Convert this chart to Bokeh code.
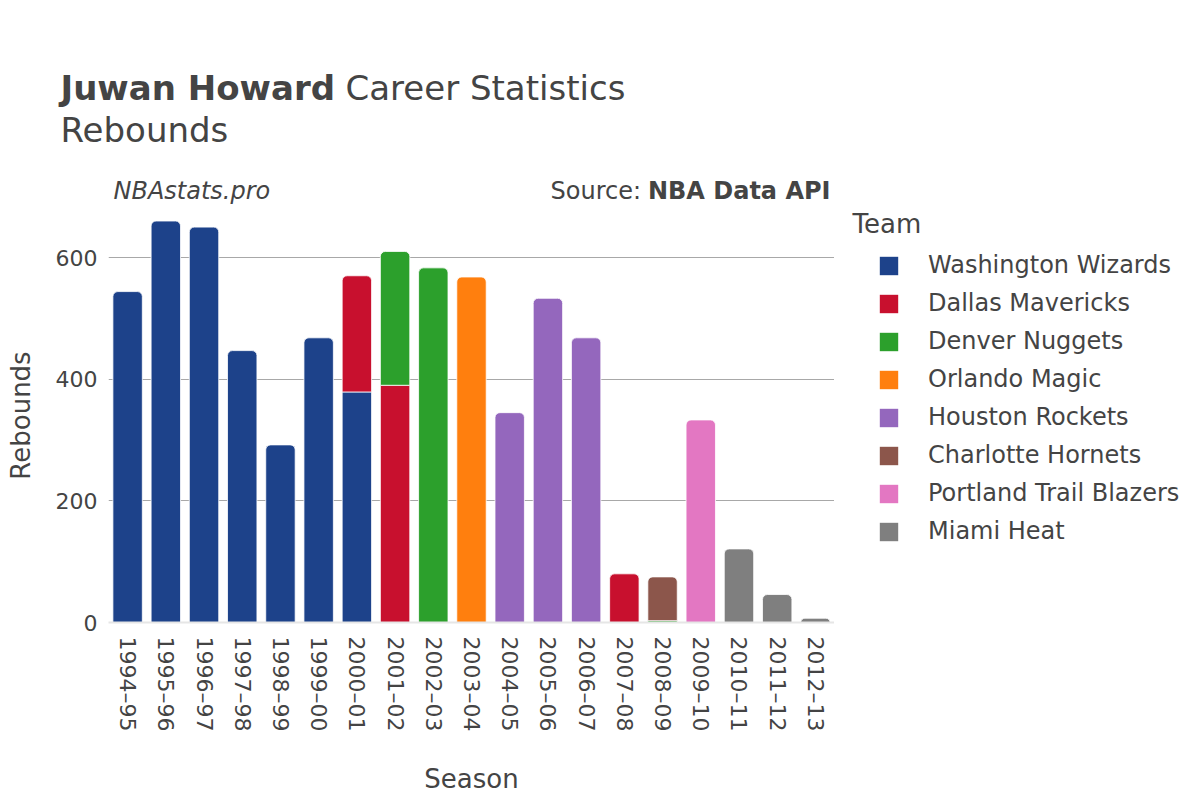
import math
from bokeh.plotting import figure
from bokeh.layouts import column, row
from bokeh.models import ColumnDataSource, Label, Legend, LegendItem, FactorRange, Range1d
from bokeh.embed import file_html
from bokeh.resources import INLINE

# ---------------- data ----------------
seasons = ["1994–95", "1995–96", "1996–97", "1997–98", "1998–99", "1999–00",
           "2000–01", "2001–02", "2002–03", "2003–04", "2004–05", "2005–06",
           "2006–07", "2007–08", "2008–09", "2009–10", "2010–11", "2011–12",
           "2012–13"]

teams = ["Washington Wizards", "Dallas Mavericks", "Denver Nuggets",
         "Orlando Magic", "Houston Rockets", "Charlotte Hornets",
         "Portland Trail Blazers", "Miami Heat"]

team_colors = ["#1D428A", "#C8102E", "#2CA02C", "#FF7F0E", "#9467BD",
               "#8C564B", "#E377C2", "#7F7F7F"]

washington = [544, 660, 650, 447, 292, 468, 379, 0, 0, 0, 0, 0, 0, 0, 0, 0, 0, 0, 0]
dallas     = [0, 0, 0, 0, 0, 0, 191, 390, 0, 0, 0, 0, 0, 80, 0, 0, 0, 0, 0]
denver     = [0, 0, 0, 0, 0, 0, 0, 220, 583, 0, 0, 0, 0, 0, 3, 0, 0, 0, 0]
orlando    = [0, 0, 0, 0, 0, 0, 0, 0, 0, 568, 0, 0, 0, 0, 0, 0, 0, 0, 0]
houston    = [0, 0, 0, 0, 0, 0, 0, 0, 0, 0, 345, 533, 468, 0, 0, 0, 0, 0, 0]
charlotte  = [0, 0, 0, 0, 0, 0, 0, 0, 0, 0, 0, 0, 0, 0, 72, 0, 0, 0, 0]
portland   = [0, 0, 0, 0, 0, 0, 0, 0, 0, 0, 0, 0, 0, 0, 0, 333, 0, 0, 0]
miami      = [0, 0, 0, 0, 0, 0, 0, 0, 0, 0, 0, 0, 0, 0, 0, 0, 121, 46, 7]

team_series = [washington, dallas, denver, orlando, houston, charlotte, portland, miami]
y_ticks = [0, 200, 400, 600]

TXT = "#444444"
FONT = "DejaVu Sans"
BASE_FIX = 0.37  # label baseline correction (fraction of font size)


def bare(fig):
    fig.axis.visible = False
    fig.xgrid.grid_line_color = None
    fig.ygrid.grid_line_color = None
    fig.outline_line_color = None
    return fig


def lab(fig, text, x, y, size_px, style="normal", align="left"):
    fig.add_layout(Label(text=text, x=x, y=y - BASE_FIX * size_px, text_font=FONT,
                         text_font_size=f"{size_px}px", text_font_style=style,
                         text_color=TXT, text_align=align, text_baseline="alphabetic"))


HEAD_H = 208

# ---------------- header (titles) ----------------
head = bare(figure(width=1200, height=HEAD_H, x_range=Range1d(0, 1200),
                   y_range=Range1d(HEAD_H, 0), output_backend="svg",
                   toolbar_location=None, min_border=0))
lab(head, "Juwan Howard", 60, 100, 34, "bold")
lab(head, "Career Statistics", 345, 100, 34)
lab(head, "Rebounds", 60, 142, 34)
lab(head, "NBAstats.pro", 113, 199, 24, "italic")
lab(head, "Source: ", 550, 199, 24)
lab(head, "NBA Data API", 830, 199, 24, "bold", "right")

# ---------------- main chart ----------------
p = figure(x_range=FactorRange(*seasons, range_padding=0), y_range=(0, 680.6),
           width=834, height=800 - HEAD_H, output_backend="svg", toolbar_location=None,
           min_border_left=108, min_border_top=0, min_border_bottom=178,
           min_border_right=0)
p.outline_line_color = None

n = len(seasons)
cum = [0] * n
last_team = [max(i for i, s in enumerate(team_series) if s[j] > 0) for j in range(n)]
for ti, (team, vals, col) in enumerate(zip(teams, team_series, team_colors)):
    top_d = dict(x=[], bottom=[], top=[])
    inner_d = dict(x=[], bottom=[], top=[])
    for j, v in enumerate(vals):
        if v <= 0:
            continue
        d = top_d if last_team[j] == ti else inner_d
        d["x"].append(seasons[j])
        d["bottom"].append(cum[j])
        d["top"].append(cum[j] + v)
        cum[j] += v
    p.vbar(x="x", bottom="bottom", top="top", width=0.77,
           source=ColumnDataSource(top_d), fill_color=col,
           line_color="white", line_width=0.8, border_radius=(5, 5, 0, 0))
    p.vbar(x="x", bottom="bottom", top="top", width=0.77,
           source=ColumnDataSource(inner_d), fill_color=col,
           line_color="white", line_width=0.8)

p.xgrid.grid_line_color = None
p.ygrid.grid_line_color = "#a8a8a8"
p.ygrid.grid_line_width = 1
p.yaxis.ticker = y_ticks
p.yaxis.axis_line_color = None
p.yaxis.major_tick_line_color = None
p.yaxis.minor_tick_line_color = None
p.yaxis.major_label_standoff = 5
p.yaxis.major_label_text_font = FONT
p.yaxis.major_label_text_font_size = "22px"
p.yaxis.major_label_text_color = TXT
p.yaxis.axis_label = "Rebounds"
p.yaxis.axis_label_standoff = 17
p.yaxis.axis_label_text_font = FONT
p.yaxis.axis_label_text_font_size = "26px"
p.yaxis.axis_label_text_font_style = "normal"
p.yaxis.axis_label_text_color = TXT

p.xaxis.axis_line_color = "#e6e6e6"
p.xaxis.axis_line_width = 2
p.xaxis.major_tick_line_color = None
p.xaxis.minor_tick_line_color = None
p.xaxis.major_label_orientation = -math.pi / 2
p.xaxis.major_label_standoff = 8
p.xaxis.major_label_text_font = FONT
p.xaxis.major_label_text_font_size = "22px"
p.xaxis.major_label_text_color = TXT
p.xaxis.axis_label = "Season"
p.xaxis.axis_label_standoff = 30
p.xaxis.axis_label_text_font = FONT
p.xaxis.axis_label_text_font_size = "26px"
p.xaxis.axis_label_text_font_style = "normal"
p.xaxis.axis_label_text_color = TXT

# ---------------- legend panel ----------------
LEG_H = 800 - HEAD_H
OFF = 100000  # legend swatch renderers (each team's series) lie outside the view
leg = bare(figure(width=366, height=LEG_H, x_range=Range1d(OFF, OFF + 366),
                  y_range=Range1d(OFF + LEG_H, OFF), output_backend="svg",
                  toolbar_location=None, min_border=0))
items = []
season_idx = list(range(n))
for team, vals, col in zip(teams, team_series, team_colors):
    r = leg.vbar(x=season_idx, top=vals, width=0.77, fill_color=col, line_color=None,
                 border_radius=4)
    items.append(LegendItem(label=team, renderers=[r]))
legend = Legend(items=items, location="top_left", padding=0, spacing=10,
                glyph_width=23, glyph_height=23, label_standoff=28,
                label_height=23, label_text_font=FONT, label_text_font_size="24px",
                label_text_color=TXT, border_line_color=None,
                background_fill_alpha=0, margin=43)
leg.add_layout(legend, "center")
lab(leg, "Team", OFF + 18, OFF + 236 - HEAD_H + 4, 26)

layout = column(head, row(p, leg, spacing=0), spacing=0)
open("out.html", "w").write(file_html(layout, INLINE))
